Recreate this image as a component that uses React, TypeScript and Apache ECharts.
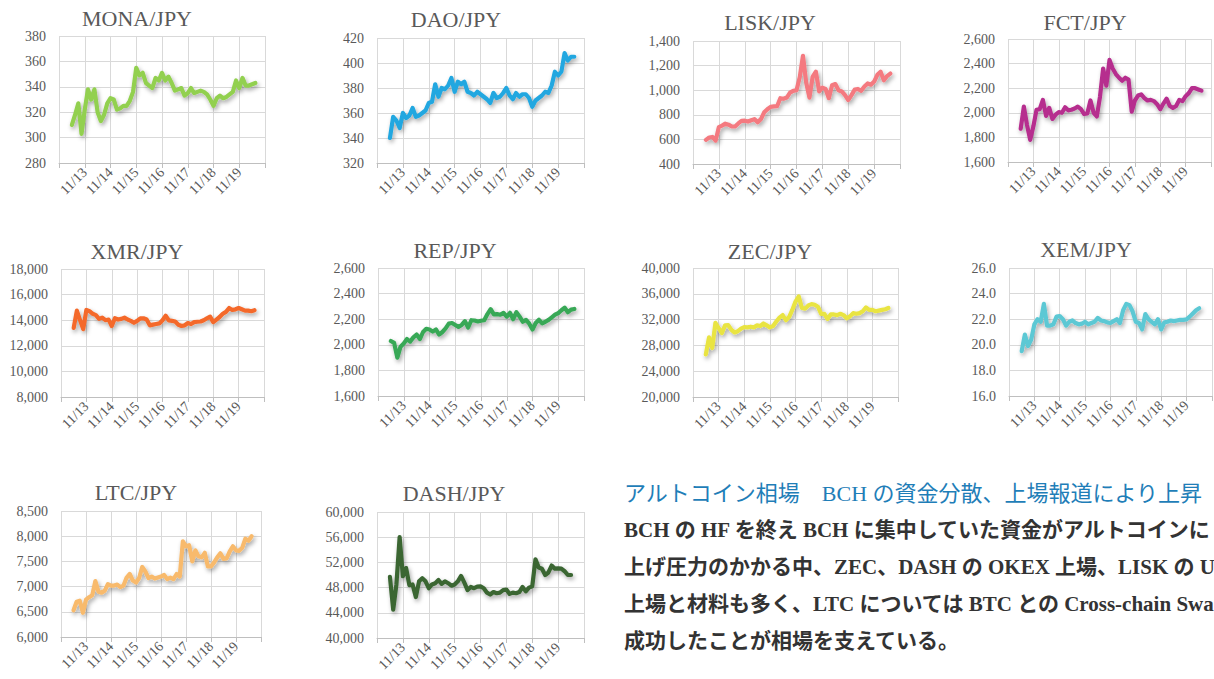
import React, { useEffect, useRef } from "react";
import * as echarts from "echarts";

// ---- data ----
const dayLabels = ["11/13", "11/14", "11/15", "11/16", "11/17", "11/18", "11/19"];
const START_DAY = 12.5; // first sample: 11/12 12:00
const STEP_DAYS = 0.125; // samples every 3 hours

const pairTitles = ["MONA/JPY", "DAO/JPY", "LISK/JPY", "FCT/JPY", "XMR/JPY", "REP/JPY", "ZEC/JPY", "XEM/JPY", "LTC/JPY", "DASH/JPY"];

const monaValues = [310, 318, 327, 303, 322, 338, 330, 338, 320, 313, 318, 327, 331, 330, 322, 323, 325, 325, 329, 336, 355, 349, 351, 343, 341, 339, 347, 345, 351, 345, 348, 343, 337, 338, 339, 333, 335, 339, 335, 336, 337, 336, 334, 330, 325, 331, 333, 331, 332, 334, 336, 345, 339, 347, 341, 341, 342, 343];
const daoValues = [340, 357, 354, 348, 360, 356, 358, 364, 357, 358, 360, 362, 368, 369, 383, 373, 380, 379, 382, 388, 377, 385, 383, 385, 377, 376, 374, 377, 375, 373, 371, 368, 376, 372, 373, 376, 380, 374, 371, 376, 373, 375, 375, 372, 365, 370, 372, 374, 377, 376, 382, 393, 390, 393, 408, 402, 405, 405];
const liskValues = [596, 615, 620, 590, 700, 712, 728, 720, 705, 705, 730, 750, 752, 745, 755, 765, 740, 765, 820, 845, 865, 868, 870, 935, 930, 940, 980, 995, 1000, 1105, 1280, 1060, 940, 1110, 1150, 990, 1020, 1010, 935, 1040, 1050, 1000, 990, 960, 920, 960, 1005, 1010, 995, 1030, 1055, 1045, 1070, 1125, 1150, 1080, 1115, 1135];
const fctValues = [1870, 2050, 1900, 1780, 1890, 2025, 2030, 2105, 1975, 2040, 1950, 1985, 2005, 2000, 2045, 2020, 2025, 2035, 2050, 2030, 1990, 1995, 2100, 2000, 1970, 2130, 2360, 2220, 2430, 2360, 2315, 2285, 2260, 2285, 2270, 2010, 2100, 2140, 2150, 2120, 2100, 2105, 2095, 2070, 2030, 2075, 2115, 2055, 2040, 2055, 2105, 2095, 2135, 2160, 2200, 2200, 2190, 2180];
const xmrValues = [13400, 14750, 14000, 13300, 14800, 14700, 14500, 14400, 14100, 14200, 14000, 14050, 13550, 14150, 14050, 14100, 14200, 14050, 13950, 13800, 13950, 14150, 14150, 14050, 13600, 13650, 13700, 13750, 14000, 14350, 13980, 13950, 13900, 13650, 13550, 13600, 13780, 13700, 13850, 13880, 13900, 14000, 14150, 14280, 13850, 14050, 14250, 14500, 14650, 14950, 14800, 14850, 14950, 14850, 14750, 14750, 14700, 14780];
const repValues = [2030, 2015, 1900, 1985, 2010, 2045, 2025, 2058, 2080, 2045, 2100, 2125, 2120, 2103, 2120, 2080, 2100, 2128, 2165, 2170, 2155, 2140, 2155, 2185, 2135, 2192, 2190, 2182, 2188, 2192, 2240, 2278, 2238, 2240, 2235, 2250, 2220, 2250, 2200, 2255, 2220, 2180, 2195, 2165, 2120, 2170, 2195, 2168, 2180, 2195, 2215, 2235, 2248, 2270, 2290, 2255, 2275, 2280];
const zecValues = [26600, 29250, 27600, 31500, 30700, 29900, 31100, 31150, 30400, 30000, 30200, 30600, 30850, 30800, 30900, 30800, 31100, 31000, 31400, 31100, 30800, 31000, 31700, 32300, 32700, 31900, 32400, 33500, 34800, 35600, 33800, 33700, 34200, 34400, 34300, 34000, 32900, 32900, 32100, 32800, 32800, 32700, 32900, 32700, 32200, 32500, 33000, 32900, 33000, 33300, 33900, 33500, 33500, 33300, 33400, 33500, 33600, 33800];
const xemValues = [19.5, 20.8, 19.9, 20.4, 21.6, 22.0, 21.8, 23.2, 21.5, 21.5, 21.6, 22.2, 22.25, 22.0, 21.5, 21.8, 21.9, 21.7, 21.6, 21.65, 21.8, 21.6, 21.7, 21.8, 22.1, 21.9, 21.85, 21.75, 21.7, 21.85, 22.0, 21.7, 22.7, 23.2, 23.1, 22.6, 21.8, 21.7, 21.2, 22.4, 22.0, 21.8, 21.6, 22.0, 21.2, 21.75, 21.8, 21.9, 21.85, 21.9, 21.95, 21.95, 21.99, 22.2, 22.45, 22.7, 22.85];
const ltcValues = [6530, 6700, 6720, 6480, 6740, 6790, 6830, 7110, 6900, 6880, 6920, 7050, 7020, 7020, 7040, 6990, 7020, 7180, 7250, 7120, 7080, 7170, 7390, 7300, 7170, 7200, 7160, 7180, 7200, 7230, 7150, 7180, 7150, 7250, 7200, 7900, 7800, 7820, 7500, 7720, 7600, 7580, 7670, 7400, 7400, 7480, 7580, 7660, 7550, 7560, 7700, 7800, 7720, 7710, 7770, 7950, 7910, 8000];
const dashValues = [49700, 44500, 48500, 56000, 49800, 51100, 48400, 48500, 46500, 49000, 49500, 49000, 47900, 48500, 48700, 49200, 48600, 49000, 48700, 48300, 48500, 49000, 49850, 48800, 47600, 48100, 47900, 48150, 48200, 47900, 47200, 46900, 47300, 47100, 47200, 47600, 47700, 47000, 47200, 47100, 47300, 48100, 47400, 48000, 48200, 52500, 51200, 51000, 50000, 50400, 51500, 51000, 51050, 51000, 50600, 50000, 50000];

const yMins = [280, 320, 400, 1600, 8000, 1600, 20000, 16, 6000, 40000];
const yMaxs = [380, 420, 1400, 2600, 18000, 2600, 40000, 26, 8500, 60000];
const yIntervals = [20, 20, 200, 200, 2000, 200, 4000, 2, 500, 4000];
const yDecimals = [0, 0, 0, 0, 0, 0, 0, 1, 0, 0];

const headline = "アルトコイン相場　BCH の資金分散、上場報道により上昇";
const bodyLines = [
  "BCH の HF を終え BCH に集中していた資金がアルトコインに",
  "上げ圧力のかかる中、ZEC、DASH の OKEX 上場、LISK の U",
  "上場と材料も多く、LTC については BTC との Cross-chain Swa",
  "成功したことが相場を支えている。",
];

// ---- styling / layout ----
const allValues = [monaValues, daoValues, liskValues, fctValues, xmrValues, repValues, zecValues, xemValues, ltcValues, dashValues];
const lineColors = ["#92D050", "#22A7E0", "#F47A80", "#B62E8E", "#F4692B", "#38A857", "#E9E443", "#5CC8D4", "#F8BA6C", "#3A6633"];
const layouts = [
  { left: 59, top: 36, width: 206, height: 127, tx: 137, ty: 18 },
  { left: 377, top: 38, width: 207, height: 125, tx: 456, ty: 19 },
  { left: 693, top: 41, width: 207, height: 123, tx: 770, ty: 22 },
  { left: 1008, top: 39, width: 203, height: 123, tx: 1085, ty: 22 },
  { left: 61, top: 269, width: 203, height: 128, tx: 137, ty: 251 },
  { left: 378, top: 268, width: 206, height: 128, tx: 455, ty: 250 },
  { left: 693, top: 268, width: 205, height: 129, tx: 770, ty: 251 },
  { left: 1009, top: 268, width: 205, height: 128, tx: 1086, ty: 249 },
  { left: 61, top: 511, width: 200, height: 126, tx: 136, ty: 492 },
  { left: 377, top: 512, width: 207, height: 126, tx: 454, ty: 493 },
];

const SERIF = "'Liberation Serif', 'Times New Roman', serif";
const JP = "'Liberation Serif', 'Noto Sans CJK JP', serif";
const GRID_COLOR = "#D9D9D9";
const LABEL_COLOR = "#595959";

function fmt(v: number, dec: number) {
  if (dec > 0) return v.toFixed(dec);
  return v.toLocaleString("en-US");
}

function buildOption() {
  const grid: any[] = [];
  const xAxis: any[] = [];
  const yAxis: any[] = [];
  const series: any[] = [];
  const graphic: any[] = [];

  layouts.forEach((L, i) => {
    grid.push({ left: L.left, top: L.top, width: L.width, height: L.height, containLabel: false });
    xAxis.push({
      type: "value",
      gridIndex: i,
      min: 12,
      max: 20,
      interval: 1,
      axisLine: { show: true, lineStyle: { color: "#BFBFBF", width: 1 } },
      axisTick: { show: true, length: 5, lineStyle: { color: "#BFBFBF" } },
      splitLine: { show: true, lineStyle: { color: GRID_COLOR, width: 1 } },
      axisLabel: {
        rotate: 45,
        margin: 7,
        fontSize: 14,
        fontFamily: SERIF,
        color: LABEL_COLOR,
        formatter: (v: number) => (v > 12 && v < 20 ? dayLabels[v - 13] : ""),
      },
    });
    yAxis.push({
      type: "value",
      gridIndex: i,
      min: yMins[i],
      max: yMaxs[i],
      interval: yIntervals[i],
      axisLine: { show: false },
      axisTick: { show: false },
      splitLine: { show: true, lineStyle: { color: GRID_COLOR, width: 1 } },
      axisLabel: {
        margin: 13,
        fontSize: 14,
        fontFamily: SERIF,
        color: LABEL_COLOR,
        formatter: (v: number) => fmt(v, yDecimals[i]),
      },
    });
    series.push({
      type: "line",
      xAxisIndex: i,
      yAxisIndex: i,
      showSymbol: false,
      symbol: "none",
      data: allValues[i].map((v, k) => [START_DAY + k * STEP_DAYS, v]),
      lineStyle: {
        color: lineColors[i],
        width: 4.2,
        shadowColor: "rgba(0,0,0,0.35)",
        shadowBlur: 4,
        shadowOffsetX: 1.5,
        shadowOffsetY: 2.5,
        join: "round",
        cap: "round",
      },
      itemStyle: { color: lineColors[i] },
    });
    graphic.push({
      type: "text",
      x: L.tx,
      y: L.ty,
      style: {
        text: pairTitles[i],
        fill: LABEL_COLOR,
        fontSize: 22,
        fontFamily: SERIF,
        textAlign: "center",
        textVerticalAlign: "middle",
      },
    });
  });

  graphic.push({
    type: "text",
    x: 624,
    y: 493,
    style: {
      text: headline,
      fill: "#1F7EB8",
      fontSize: 22,
      fontFamily: JP,
      textAlign: "left",
      textVerticalAlign: "middle",
    },
  });
  bodyLines.forEach((t, j) => {
    graphic.push({
      type: "text",
      x: 624,
      y: 530 + j * 37,
      style: {
        text: t,
        fill: "#333333",
        fontSize: 21,
        fontWeight: "bold",
        fontFamily: JP,
        textAlign: "left",
        textVerticalAlign: "middle",
      },
    });
  });

  return {
    animation: false,
    backgroundColor: "#ffffff",
    grid,
    xAxis,
    yAxis,
    series,
    graphic,
  };
}

export default function App() {
  const ref = useRef<HTMLDivElement>(null);
  useEffect(() => {
    if (!ref.current) return;
    const chart = echarts.init(ref.current, null, { renderer: "svg" });
    chart.setOption(buildOption() as any);
    return () => chart.dispose();
  }, []);
  return (
    <div
      ref={ref}
      style={{ position: "fixed", left: 0, top: 0, width: 1214, height: 679, overflow: "hidden", background: "#fff" }}
    />
  );
}
